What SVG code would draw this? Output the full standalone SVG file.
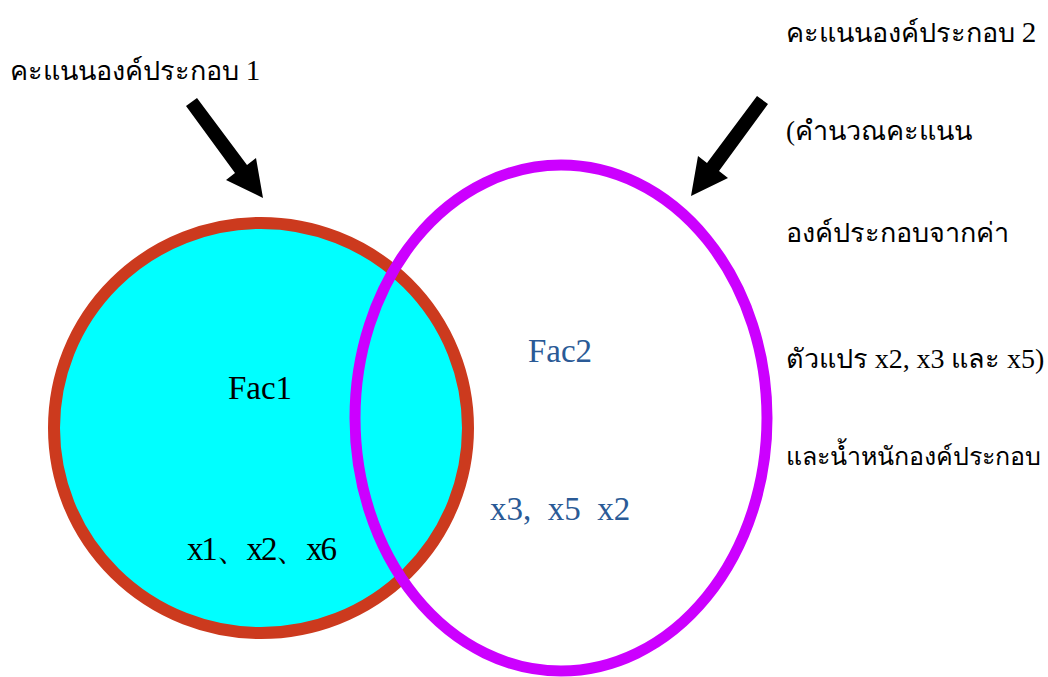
<svg xmlns="http://www.w3.org/2000/svg" width="1048" height="677" viewBox="0 0 1048 677">
<style>
.t{font-family:"Liberation Serif","DejaVu Serif","Noto Sans",serif;font-size:27px;fill:#000;white-space:pre}
.l{font-size:33px}
.c{text-anchor:middle}
.b{fill:#2a5a96}
</style>
<rect width="1048" height="677" fill="#fff"/>
<g id="fac1">
<ellipse cx="261" cy="428" rx="207" ry="205" fill="#00ffff" stroke="#cc3a1e" stroke-width="12"/>
<text class="t l c" x="260" y="399">Fac1</text>
<text class="t l c" x="262" y="560" textLength="150" lengthAdjust="spacing">x1、x2、x6</text>
</g>
<g id="fac2">
<ellipse cx="561" cy="418" rx="206" ry="253" fill="none" stroke="#cc00ff" stroke-width="11"/>
<text class="t l c b" x="560" y="362">Fac2</text>
<text class="t l c b" x="560" y="520">x3,  x5  x2</text>
</g>
<g id="label1">
<text class="t" x="10" y="80">คะแนนองค์ประกอบ <tspan font-size="29">1</tspan></text>
</g>
<g id="label2">
<text class="t" x="786" y="42">คะแนนองค์ประกอบ <tspan font-size="29">2</tspan></text>
<text class="t" x="786" y="140">(คำนวณคะแนน</text>
<text class="t" x="786" y="242">องค์ประกอบจากค่า</text>
<text class="t" x="786" y="368" font-size="25">ตัวแปร <tspan font-size="28">x2,</tspan> <tspan font-size="28">x3</tspan> และ <tspan font-size="28">x5)</tspan></text>
<text class="t" x="786" y="465" style="font-size:25px">และน้ำหนักองค์ประกอบ</text>
</g>
<g id="connectors">
<polygon points="186,106 197,98 247,165 256,158 263,198 226,180 235,173" fill="#000"/>
<polygon points="768,104 757,96 707,163 698,156 691,196 728,178 719,171" fill="#000"/>
</g>
</svg>
